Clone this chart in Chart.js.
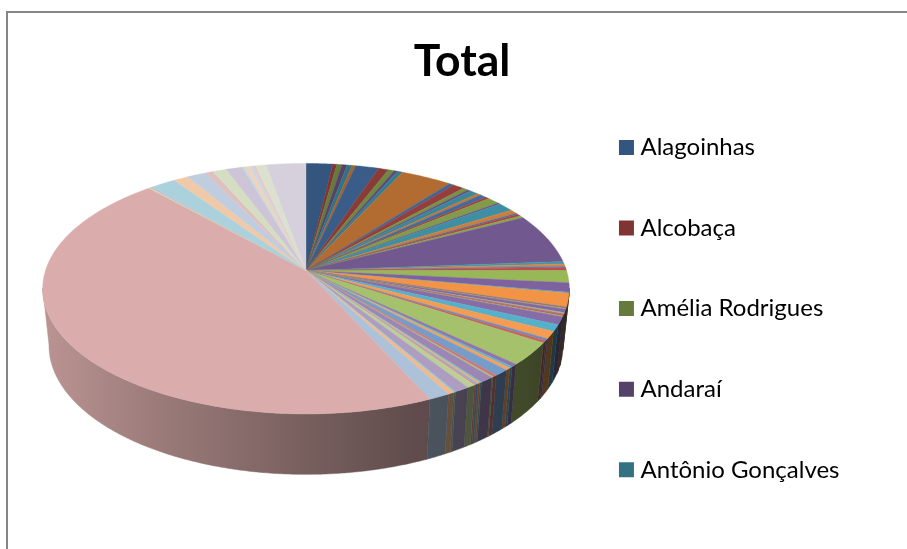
<!DOCTYPE html>
<html><head><meta charset="utf-8">
<style>html,body{margin:0;padding:0;background:#fff}#w{width:907px;height:549px}</style>
<script src="https://cdn.jsdelivr.net/npm/chart.js@4"></script>
</head><body><div id="w"><canvas id="c" width="907" height="549"></canvas></div>
<script>
const titleText = "Total";
const legendLabels = ["Alagoinhas","Alcobaça","Amélia Rodrigues","Andaraí","Antônio Gonçalves"];
const values = [6.76,1.05,1.32,1.28,1.29,0.9,5.94,2.52,1.54,0.9,1.3,13.1,1.3,2.8,1.4,0.8,2.2,1.1,1.7,0.9,3.2,0.6,4.1,2.0,0.6,1.0,1.1,23.0,1.2,1.1,0.6,1.4,5.7,4.3,0.4,6.2,0.3,0.4,0.3,1.5,0.2,0.4,0.2,0.7,0.3,3.7,3.0,3.4,0.8,1.2,10.5,1.3,0.7,1.0,3.0,0.9,0.3,2.8,0.4,0.5,0.5,0.4,1.6,3.0,0.4,1.2,4.1,162.5,0.5,0.4,6.5,3.8,4.9,1.9,3.5,4.2,0.6,1.3,0.7,0.9,2.65,10.05];
const accents = [[79,129,189],[192,80,77],[155,187,89],[128,100,162],[75,172,198],[247,150,70]];
const roundShade = [.66,.72,.78,.83,.88,.98];
const roundTint = [.03,.07,.13,.25,.42,.6,.72,.8];
const tintTarget = 235;
function sliceRGB(i){
  const r = Math.floor(i/6), c = accents[i%6];
  if (r < roundShade.length) return c.map(v=>v*roundShade[r]);
  const t = roundTint[r-roundShade.length];
  return c.map(v=>v+(tintTarget-v)*t);
}
const css = (c,f=1)=>`rgb(${c.map(v=>Math.round(v*f)).join(',')})`;
const colors = values.map((_,i)=>css(sliceRGB(i)));

// projection of the tilted disc
const topDisc = {cx:306, cy:270.5, A:260.5, B:122.6, k:.1453};
const baseDisc = {cx:306, cy:326.7, A:254.3, B:126.2, k:.1453};
const project = (d,a)=>{const u=Math.cos(a),v=Math.sin(a),w=1/(1-d.k*v);return [d.cx+d.A*u*w,d.cy+d.B*v*w];};
const shadeStops = [[47,.85],[150,.72],[297,.56],[413,.44],[530,.38],[568,.3]];
const WALL_MIN = Math.PI*8/180, WALL_MAX = Math.PI*172/180;
const pie3d = {
  id:'pie3d',
  beforeDraw(chart){
    const g=chart.ctx; g.save();
    g.fillStyle='#fff'; g.fillRect(0,0,chart.width,chart.height);
    g.fillStyle='#868686'; g.fillRect(6,11,chart.width-6,2); g.fillRect(6,11,2,chart.height-11);
    g.restore();
  },
  beforeDatasetDraw(chart,args){
    const arcs=chart.getDatasetMeta(args.index).data, STEP=Math.PI/360;
    const off=document.createElement('canvas'); off.width=chart.width; off.height=chart.height;
    const g=off.getContext('2d');
    g.lineJoin='round';
    const walls=[];
    arcs.forEach((el,i)=>{
      const s=Math.max(el.startAngle,WALL_MIN), e=Math.min(el.endAngle,WALL_MAX);
      if(e>s) walls.push({s,e,rgb:sliceRGB(i)});
    });
    walls.sort((p,q)=>Math.sin((p.s+p.e)/2)-Math.sin((q.s+q.e)/2));
    walls.forEach(w=>{
      const grad=g.createLinearGradient(47,0,568,0);
      shadeStops.forEach(st=>grad.addColorStop((st[0]-47)/521,css(w.rgb,st[1])));
      g.fillStyle=grad; g.strokeStyle=grad; g.lineWidth=.5;
      g.beginPath();
      const fw=[]; for(let a=w.s;;a+=STEP){const t=Math.min(a,w.e);fw.push(t);if(t>=w.e)break;}
      fw.forEach((t,n)=>{const q=project(topDisc,t); n?g.lineTo(q[0],q[1]):g.moveTo(q[0],q[1]);});
      fw.slice().reverse().forEach(t=>{const q=project(baseDisc,t); g.lineTo(q[0],q[1]);});
      g.closePath(); g.fill(); g.stroke();
    });
    arcs.forEach((el,i)=>{
      g.fillStyle=colors[i]; g.strokeStyle=colors[i]; g.lineWidth=.4;
      g.beginPath(); g.moveTo(topDisc.cx,topDisc.cy);
      for(let a=el.startAngle;;a+=STEP){
        const t=Math.min(a,el.endAngle),q=project(topDisc,t); g.lineTo(q[0],q[1]);
        if(t>=el.endAngle) break;
      }
      g.closePath(); g.fill(); g.stroke();
    });
    const c=chart.ctx;
    c.save(); c.filter='blur(0.6px)'; c.setTransform(1,0,0,1,0,0); c.drawImage(off,0,0); c.restore();
    return false;
  }
};
new Chart(document.getElementById('c'),{
  type:'pie',
  data:{labels:legendLabels,datasets:[{data:values,backgroundColor:colors,borderWidth:0}]},
  plugins:[pie3d],
  options:{
    responsive:false,animation:false,
    layout:{padding:{left:74.5,right:57.5,top:0,bottom:0}},
    plugins:{
      tooltip:{enabled:false},
      title:{display:true,text:titleText,color:'#000',font:{family:'Lato',size:44.5,weight:'bold'},padding:{top:35.3,bottom:-9.9}},
      legend:{
        display:true,position:'right',align:'start',fullSize:false,
        labels:{
          boxWidth:4,boxHeight:4,padding:56.6,color:'#111',font:{family:'Lato',size:24},
          generateLabels(chart){
            return legendLabels.map((text,i)=>({text,index:i,fillStyle:colors[i],strokeStyle:colors[i],lineWidth:11,lineJoin:'miter',hidden:false}));
          }
        }
      }
    }
  }
});
</script></body></html>
